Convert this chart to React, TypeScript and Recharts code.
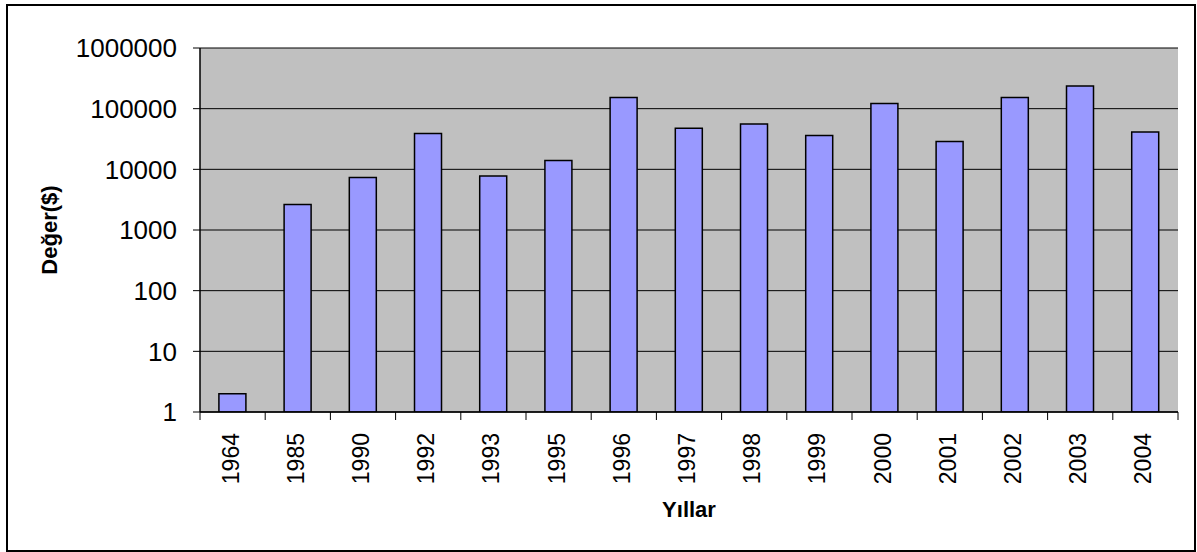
import React from 'react'
import { BarChart, Bar, XAxis, YAxis, CartesianGrid } from 'recharts'

const years = ['1964', '1985', '1990', '1992', '1993', '1995', '1996', '1997', '1998', '1999', '2000', '2001', '2002', '2003', '2004']
const values = [2, 2630, 7330, 38800, 7800, 14000, 153000, 47400, 56000, 36000, 122000, 28700, 153000, 236000, 41400]
const yTicks = [1, 10, 100, 1000, 10000, 100000, 1000000]

const data = years.map((year, i) => ({ year, value: values[i] }))

const W = 1197
const H = 552
const PLOT_LEFT = 200
const PLOT_RIGHT = 1178
const BAND = (PLOT_RIGHT - PLOT_LEFT) / years.length
const FONT = '"Liberation Sans", Arial, sans-serif'

const YearTick = ({ x, y, payload, index }: any) => {
  const left = x - BAND / 2
  return (
    <g>
      <line x1={left} y1={y} x2={left} y2={y + 8} stroke="#000" strokeWidth={1} />
      {index === years.length - 1 && (
        <line x1={left + BAND} y1={y} x2={left + BAND} y2={y + 8} stroke="#000" strokeWidth={1} />
      )}
      <text
        x={x}
        y={y + 21}
        dy={6}
        transform={`rotate(-90 ${x} ${y + 21})`}
        textAnchor="end"
        fontSize={23}
        fontFamily={FONT}
        fill="#000"
      >
        {payload.value}
      </text>
    </g>
  )
}

export default function App() {
  document.body.style.margin = '0'
  return (
    <div style={{ position: 'relative', width: W, height: H, background: '#fff' }}>
      <div
        style={{
          position: 'absolute', left: 6, top: 4, width: 1190, height: 548,
          border: '2px solid #000', boxSizing: 'border-box',
        }}
      />
      <div style={{ position: 'absolute', left: 0, top: 0 }}>
        <BarChart
          width={W}
          height={H}
          data={data}
          margin={{ top: 48, right: W - PLOT_RIGHT, left: 0, bottom: 0 }}
          barCategoryGap="29%"
        >
          <CartesianGrid vertical={false} fill="#C0C0C0" stroke="#000" strokeWidth={1} />
          <XAxis
            xAxisId="top"
            orientation="top"
            dataKey="year"
            height={0}
            tick={false}
            tickLine={false}
            axisLine={{ stroke: '#808080', strokeWidth: 1.5 }}
          />
          <XAxis
            dataKey="year"
            height={140}
            interval={0}
            tickLine={false}
            tickSize={0}
            tickMargin={0}
            axisLine={{ stroke: '#000', strokeWidth: 1.5 }}
            tick={<YearTick />}
            label={({ viewBox }: any) => (
              <text
                x={viewBox.x + viewBox.width / 2}
                y={517}
                textAnchor="middle"
                fontSize={22}
                fontWeight="bold"
                fontFamily={FONT}
                fill="#000"
              >
                Yıllar
              </text>
            )}
          />
          <YAxis
            scale="log"
            domain={[1, 1000000]}
            ticks={yTicks}
            allowDataOverflow
            width={PLOT_LEFT}
            tickSize={7}
            tickMargin={16}
            tick={{ fontSize: 26, fill: '#000', fontFamily: FONT }}
            tickLine={{ stroke: '#000' }}
            axisLine={{ stroke: '#000', strokeWidth: 1.5 }}
            label={({ viewBox }: any) => {
              const cy = viewBox.y + viewBox.height / 2
              return (
                <text
                  x={49}
                  y={cy}
                  dy={8}
                  transform={`rotate(-90 49 ${cy})`}
                  textAnchor="middle"
                  fontSize={22}
                  fontWeight="bold"
                  fontFamily={FONT}
                  fill="#000"
                >
                  Değer($)
                </text>
              )
            }}
          />
          <YAxis
            yAxisId="right"
            orientation="right"
            width={0}
            tick={false}
            tickLine={false}
            axisLine={{ stroke: '#808080', strokeWidth: 1.5 }}
          />
          <Bar
            dataKey="value"
            fill="#9999FF"
            stroke="#000"
            strokeWidth={1.5}
            isAnimationActive={false}
          />
        </BarChart>
      </div>
    </div>
  )
}
